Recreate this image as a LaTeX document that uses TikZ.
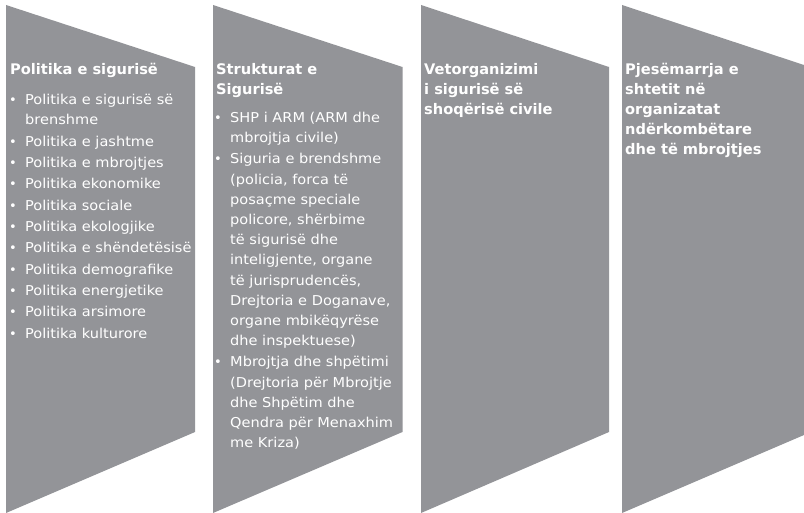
\documentclass[tikz,border=0pt]{standalone}
\usepackage{fontspec}
\setmainfont{DejaVu Sans}
\newfontfamily\bodyfont[FakeStretch=1.07]{DejaVu Sans}
\definecolor{chevgrey}{RGB}{147,148,152}
\begin{document}
\begin{tikzpicture}[x=1pt,y=-1pt,
  chev/.style={fill=chevgrey,draw=none},
  ttl/.style={anchor=base west,inner sep=0pt,text=white,font=\fontsize{14.6}{20}\selectfont\bfseries},
  txt/.style={anchor=base west,inner sep=0pt,text=white,font=\bodyfont\fontsize{13.6}{20}\selectfont},
  bul/.style={anchor=base,inner sep=0pt,text=white,font=\fontsize{13}{20}\selectfont}]
\useasboundingbox (0,0) rectangle (804,513);
% chevrons
\fill[chev] (6,5) -- (195,67) -- (195,432) -- (6,513) -- cycle;
\fill[chev] (213,5) -- (402.5,67) -- (402.5,432) -- (213,513) -- cycle;
\fill[chev] (421,5) -- (609,67) -- (609,432) -- (421,513) -- cycle;
\fill[chev] (622,5) -- (804,65) -- (804,435) -- (622,513) -- cycle;
% column 1
\node[ttl] (t1) at (10,75) {Politika e sigurisë};
\node[bul] (b1a) at (13,105) {•};
\node[txt] (l1a) at (25,105) {Politika e sigurisë së};
\node[txt] (l1b) at (25,125) {brenshme};
\node[bul] (b1c) at (13,146.3) {•};
\node[txt] (l1c) at (25,146.3) {Politika e jashtme};
\node[bul] (b1d) at (13,167.6) {•};
\node[txt] (l1d) at (25,167.6) {Politika e mbrojtjes};
\node[bul] (b1e) at (13,188.9) {•};
\node[txt] (l1e) at (25,188.9) {Politika ekonomike};
\node[bul] (b1f) at (13,210.2) {•};
\node[txt] (l1f) at (25,210.2) {Politika sociale};
\node[bul] (b1g) at (13,231.5) {•};
\node[txt] (l1g) at (25,231.5) {Politika ekologjike};
\node[bul] (b1h) at (13,252.8) {•};
\node[txt] (l1h) at (25,252.8) {Politika e shëndetësisë};
\node[bul] (b1i) at (13,274.1) {•};
\node[txt] (l1i) at (25,274.1) {Politika demografike};
\node[bul] (b1j) at (13,295.4) {•};
\node[txt] (l1j) at (25,295.4) {Politika energjetike};
\node[bul] (b1k) at (13,316.7) {•};
\node[txt] (l1k) at (25,316.7) {Politika arsimore};
\node[bul] (b1l) at (13,338) {•};
\node[txt] (l1l) at (25,338) {Politika kulturore};
% column 2
\node[ttl] (t2a) at (216,75) {Strukturat e};
\node[ttl] (t2b) at (216,95) {Sigurisë};
\node[bul] (b2a) at (218,122.5) {•};
\node[txt] (l2a) at (230,122.5) {SHP i ARM (ARM dhe};
\node[txt] (l2b) at (230,142.7) {mbrojtja civile)};
\node[bul] (b2c) at (218,163.9) {•};
\node[txt] (l2c) at (230,163.9) {Siguria e brendshme};
\node[txt] (l2d) at (230,184.1) {(policia, forca të};
\node[txt] (l2e) at (230,204.3) {posaçme speciale};
\node[txt] (l2f) at (230,224.5) {policore, shërbime};
\node[txt] (l2g) at (230,244.7) {të sigurisë dhe};
\node[txt] (l2h) at (230,264.9) {inteligjente, organe};
\node[txt] (l2i) at (230,285.1) {të jurisprudencës,};
\node[txt] (l2j) at (230,305.3) {Drejtoria e Doganave,};
\node[txt] (l2k) at (230,325.5) {organe mbikëqyrëse};
\node[txt] (l2l) at (230,345.7) {dhe inspektuese)};
\node[bul] (b2m) at (218,366.9) {•};
\node[txt] (l2m) at (230,366.9) {Mbrojtja dhe shpëtimi};
\node[txt] (l2n) at (230,387.1) {(Drejtoria për Mbrojtje};
\node[txt] (l2o) at (230,407.3) {dhe Shpëtim dhe};
\node[txt] (l2p) at (230,427.5) {Qendra për Menaxhim};
\node[txt] (l2q) at (230,447.7) {me Kriza)};
% column 3
\node[ttl] (t3a) at (424,75) {Vetorganizimi};
\node[ttl] (t3b) at (424,95) {i sigurisë së};
\node[ttl] (t3c) at (424,115) {shoqërisë civile};
% column 4
\node[ttl] (t4a) at (625,75) {Pjesëmarrja e};
\node[ttl] (t4b) at (625,95) {shtetit në};
\node[ttl] (t4c) at (625,115) {organizatat};
\node[ttl] (t4d) at (625,135) {ndërkombëtare};
\node[ttl] (t4e) at (625,155) {dhe të mbrojtjes};
\end{tikzpicture}
\end{document}
